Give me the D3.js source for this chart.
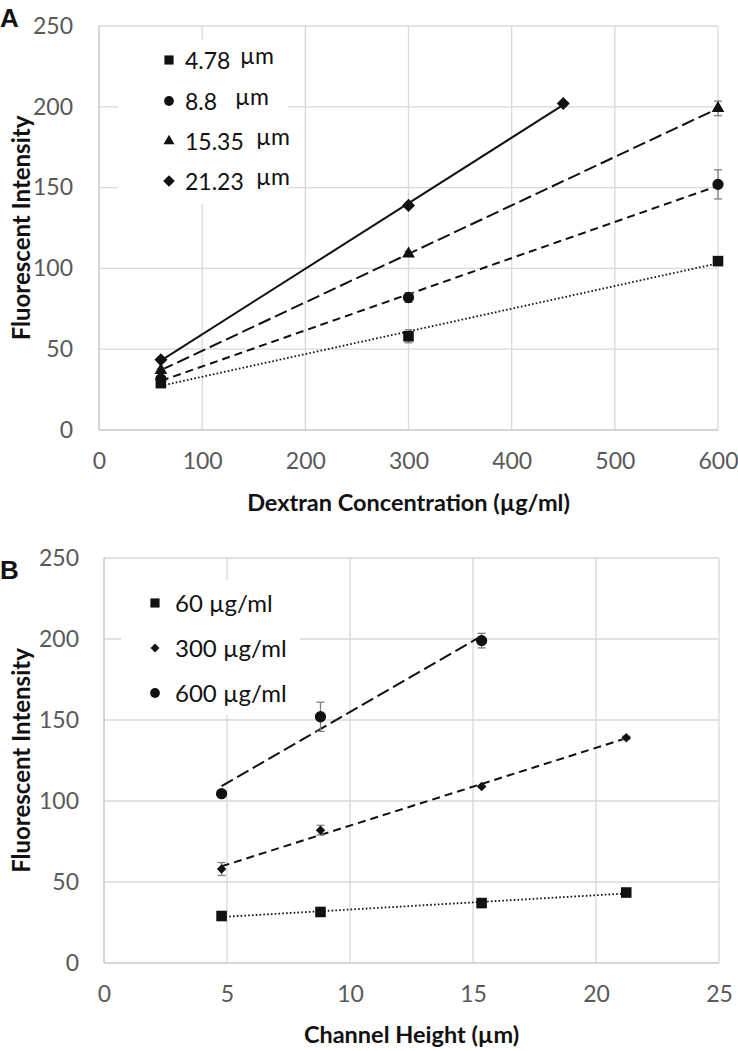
<!DOCTYPE html>
<html><head><meta charset="utf-8">
<script src="https://cdn.jsdelivr.net/npm/d3@7"></script>
<style>
body{margin:0;background:#fff}
svg text{font-family:Lato,"Open Sans",sans-serif}
</style>
</head><body>
<svg id="c" width="738" height="1051"></svg>
<script>
// ---------- Panel A data ----------
const aSeriesNames = ["4.78", "8.8", "15.35", "21.23"];
const aUnit = "µm";
const aX = [[60, 300, 600], [60, 300, 600], [60, 300, 600], [60, 300, 450]];
const aY = [[29, 58, 104.5], [31.5, 82, 152], [37, 109, 199], [43.5, 139, 202]];
const aErr = [[0.5, 4, 1.5], [1, 3, 9], [1, 1.5, 4.5], [0.8, 1, 1]];
const aXTicks = [0, 100, 200, 300, 400, 500, 600];
const aYTicks = [0, 50, 100, 150, 200, 250];
const aShapes = ["square", "circle", "triangle", "diamond"];
const aDashes = ["dot", "short", "long", "solid"];

// ---------- Panel B data ----------
const bSeriesNames = ["60 µg/ml", "300 µg/ml", "600 µg/ml"];
const bXAll = [4.78, 8.8, 15.35, 21.23];
const bY = [[29, 31.5, 37, 43.5], [58, 82, 109, 139], [104.5, 152, 199]];
const bErr = [[0.5, 0.5, 0.5, 0.5], [4, 3, 0.6, 1], [2, 9, 4.5]];
const bXTicks = [0, 5, 10, 15, 20, 25];
const bYTicks = [0, 50, 100, 150, 200, 250];
const bShapes = ["square", "diamondSmall", "circle"];
const bDashes = ["dot", "short", "long"];

const svg = d3.select("#c");
const dashMap = {dot: "1.6,2.2", short: "8,5", long: "13,5", solid: null};

function shapePath(shape, s) {
  const sym = {
    square: d3.symbolSquare, circle: d3.symbolCircle, triangle: d3.symbolTriangle,
    diamond: d3.symbolSquare, diamondSmall: d3.symbolSquare
  }[shape];
  return d3.symbol().type(sym).size(s)();
}
function drawMarker(g, shape, x, y, scale) {
  const k = scale || 1;
  let size, rot = 0;
  if (shape === "square") size = 112 * k;
  else if (shape === "circle") size = 100 * k;
  else if (shape === "triangle") size = 70 * k;
  else if (shape === "diamond") { size = 85 * k; rot = 45; }
  else if (shape === "diamondSmall") { size = 45 * k; rot = 45; }
  g.append("path").attr("d", shapePath(shape, size))
    .attr("transform", `translate(${x},${y}) rotate(${rot})`)
    .attr("fill", "#111");
}
function linreg(xs, ys) {
  const mx = d3.mean(xs), my = d3.mean(ys);
  let sxy = 0, sxx = 0;
  xs.forEach((x, i) => { sxy += (x - mx) * (ys[i] - my); sxx += (x - mx) * (x - mx); });
  const m = sxy / sxx;
  return x => my + m * (x - mx);
}

function panel(opt) {
  const g = svg.append("g");
  const x = d3.scaleLinear().domain(opt.xDomain).range([opt.left, opt.right]);
  const y = d3.scaleLinear().domain([0, 250]).range([opt.bottom, opt.top]);

  // gridlines
  g.append("g").selectAll("line").data(opt.yTicks.filter(d => d > 0)).join("line")
    .attr("x1", opt.left).attr("x2", opt.right).attr("y1", d => y(d)).attr("y2", d => y(d))
    .attr("stroke", "#d9d9d9").attr("stroke-width", 1.3);
  g.append("g").selectAll("line").data(opt.xTicks.filter(d => d > 0)).join("line")
    .attr("y1", opt.top).attr("y2", opt.bottom).attr("x1", d => x(d)).attr("x2", d => x(d))
    .attr("stroke", "#d9d9d9").attr("stroke-width", 1.3);
  // axis lines
  g.append("line").attr("x1", opt.left).attr("x2", opt.left).attr("y1", opt.top).attr("y2", opt.bottom)
    .attr("stroke", "#c8c8c8").attr("stroke-width", 1.5);
  g.append("line").attr("x1", opt.left).attr("x2", opt.right).attr("y1", opt.bottom).attr("y2", opt.bottom)
    .attr("stroke", "#c8c8c8").attr("stroke-width", 1.5);

  // legend background (covers gridlines)
  g.append("rect").attr("x", opt.legBox[0]).attr("y", opt.legBox[1])
    .attr("width", opt.legBox[2]).attr("height", opt.legBox[3]).attr("fill", "#fff");

  // tick labels via axis generators
  const yAxis = d3.axisLeft(y).tickValues(opt.yTicks).tickSize(0).tickPadding(opt.yPad);
  const ya = g.append("g").attr("transform", `translate(${opt.left},0)`).call(yAxis);
  ya.select(".domain").remove();
  ya.selectAll("text").attr("font-size", 23).attr("fill", "#595959").style("font-family", "Lato");
  const xAxis = d3.axisBottom(x).tickValues(opt.xTicks).tickSize(0).tickPadding(opt.xPad);
  const xa = g.append("g").attr("transform", `translate(0,${opt.bottom})`).call(xAxis);
  xa.select(".domain").remove();
  xa.selectAll("text").attr("font-size", 23).attr("fill", "#595959").style("font-family", "Lato");

  // series
  opt.series.forEach((s, i) => {
    const f = linreg(s.xs, s.ys);
    const x0 = d3.min(s.xs), x1 = d3.max(s.xs);
    g.append("line").attr("x1", x(x0)).attr("y1", y(f(x0))).attr("x2", x(x1)).attr("y2", y(f(x1)))
      .attr("stroke", "#111").attr("stroke-width", s.dash === "dot" ? 1.8 : 2)
      .attr("stroke-dasharray", dashMap[s.dash]).attr("stroke-linecap", "butt");
    s.xs.forEach((xv, j) => {
      const e = s.errs[j];
      const cx = x(xv), ya1 = y(s.ys[j] + e), ya2 = y(s.ys[j] - e);
      const eg = g.append("g").attr("stroke", "#808080").attr("stroke-width", 1.3);
      eg.append("line").attr("x1", cx).attr("x2", cx).attr("y1", ya1).attr("y2", ya2);
      eg.append("line").attr("x1", cx - 4).attr("x2", cx + 4).attr("y1", ya1).attr("y2", ya1);
      eg.append("line").attr("x1", cx - 4).attr("x2", cx + 4).attr("y1", ya2).attr("y2", ya2);
    });
  });
  opt.series.forEach(s => {
    s.xs.forEach((xv, j) => drawMarker(g, s.shape, x(xv), y(s.ys[j]), 1));
  });

  // axis titles
  g.append("text").attr("x", (opt.left + opt.right) / 2).attr("y", opt.xTitleY)
    .attr("text-anchor", "middle").attr("font-size", 23.5).attr("font-weight", 700).attr("fill", "#111")
    .text(opt.xTitle);
  g.append("text").attr("transform", `translate(${opt.yTitleX},${(opt.top + opt.bottom) / 2}) rotate(-90)`)
    .attr("text-anchor", "middle").attr("font-size", 24).attr("font-weight", 700).attr("fill", "#111")
    .text("Fluorescent Intensity");
  // panel letter
  g.append("text").attr("x", 0).attr("y", opt.letterY).attr("font-size", 26).attr("font-weight", 700)
    .style("font-family", "Liberation Sans, Arial, sans-serif").attr("fill", "#111").text(opt.letter);
  return g;
}

// Panel A
const gA = panel({
  left: 99, right: 718, top: 26, bottom: 430, xDomain: [0, 600],
  xTicks: aXTicks, yTicks: aYTicks, yPad: 26, xPad: 23,
  legBox: [118, 40, 170, 164],
  series: aSeriesNames.map((n, i) => ({xs: aX[i], ys: aY[i], errs: aErr[i], shape: aShapes[i], dash: aDashes[i]})),
  xTitle: "Dextran Concentration (µg/ml)", xTitleY: 511, yTitleX: 30, letter: "A", letterY: 27
});
// legend A
const legAY = [60, 101, 141, 181];
const legAUnitX = [240, 235, 256, 256];
aSeriesNames.forEach((n, i) => {
  drawMarker(gA, aShapes[i], 169, legAY[i], aShapes[i] === "diamond" ? 0.8 : 0.75);
  gA.append("text").attr("x", 185).attr("y", legAY[i] + 8.5).attr("font-size", 23).attr("fill", "#111").text(n);
  gA.append("text").attr("x", legAUnitX[i]).attr("y", legAY[i] + 3.5).attr("font-size", 23).attr("fill", "#111").text(aUnit);
});

// Panel B
const gB = panel({
  left: 104, right: 719, top: 558, bottom: 963, xDomain: [0, 25],
  xTicks: bXTicks, yTicks: bYTicks, yPad: 25, xPad: 23,
  legBox: [121, 580, 179, 135],
  series: bSeriesNames.map((n, i) => ({xs: bXAll.slice(0, bY[i].length), ys: bY[i], errs: bErr[i], shape: bShapes[i], dash: bDashes[i]})),
  xTitle: "Channel Height (µm)", xTitleY: 1043, yTitleX: 30, letter: "B", letterY: 579
});
const legBY = [603, 648, 693];
bSeriesNames.forEach((n, i) => {
  drawMarker(gB, bShapes[i], 155, legBY[i], bShapes[i] === "diamondSmall" ? 0.9 : 0.75);
  gB.append("text").attr("x", 175).attr("y", legBY[i] + 8.5).attr("font-size", 24).attr("fill", "#111").text(n);
});
</script>
</body></html>
